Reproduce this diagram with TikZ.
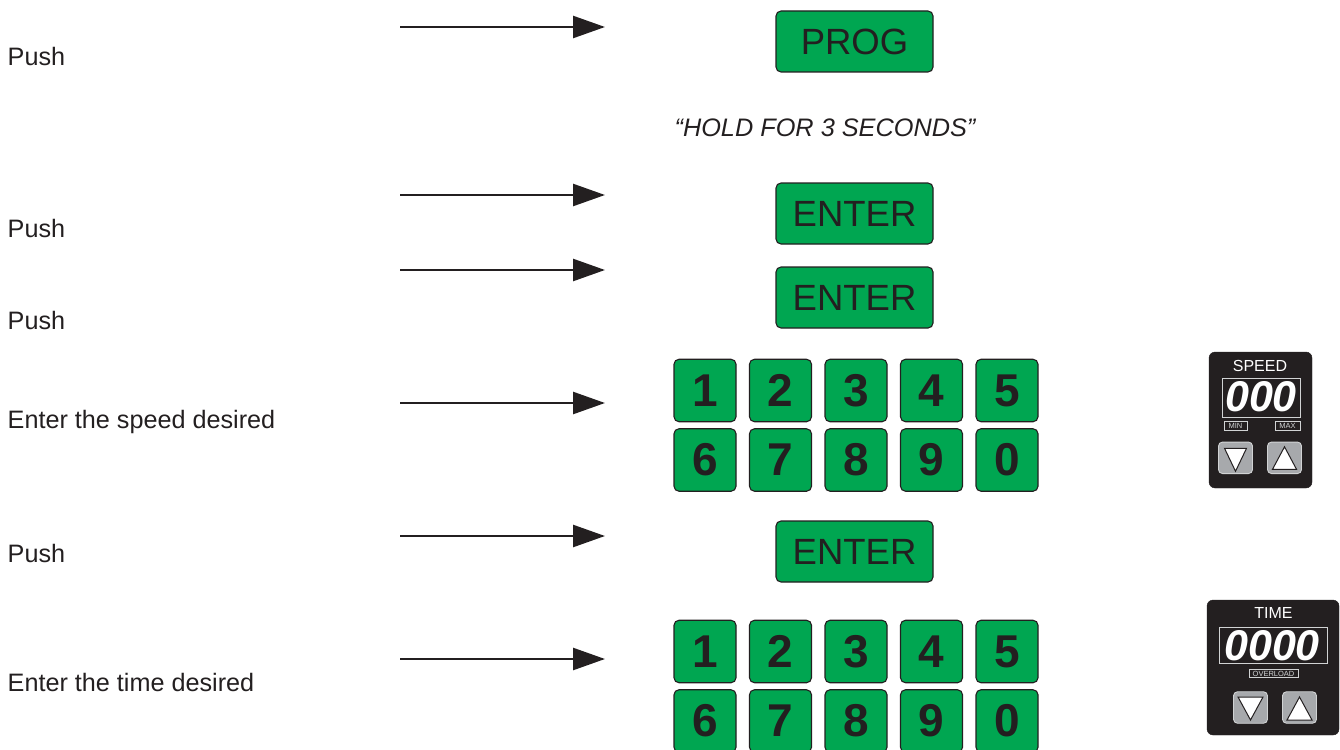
\documentclass[tikz,border=0pt]{standalone}
\usepackage{fontspec}
\setmainfont{Liberation Sans}
\usetikzlibrary{arrows.meta}

\definecolor{keygreen}{HTML}{00A651}
\definecolor{ink}{HTML}{231F20}
\definecolor{btngray}{HTML}{A7A9AC}
\definecolor{rimgray}{HTML}{D1D3D4}

\newcommand{\pxfont}[1]{\fontsize{#1}{#1}\selectfont}

\begin{document}
\begin{tikzpicture}[x=1pt,y=-1pt,
  steplabel/.style={anchor=base west, inner sep=0pt, text=ink, font=\pxfont{25.2}},
  pointer/.style={draw=ink, line width=2.5pt, -{Triangle[length=32pt,width=22pt]}},
  keybase/.style={draw=ink, line width=1.1pt, fill=keygreen, rounded corners=5pt,
    inner sep=0pt, outer sep=0pt, text=ink},
  widekey/.style={keybase, minimum width=157pt, minimum height=61pt, font=\pxfont{36.5}},
  digitkey/.style={keybase, minimum width=62pt, minimum height=62.5pt, font={\pxfont{46}\bfseries}},
  panel/.style={fill=ink, draw=ink, rounded corners=6pt, inner sep=0pt},
  paneltitle/.style={anchor=base, inner sep=0pt, text=white, font=\pxfont{16}},
  window/.style={draw=rimgray, line width=0.9pt, inner sep=0pt},
  readout/.style={anchor=base, inner sep=0pt, text=white, font={\pxfont{43}\bfseries\itshape}},
  tagbox/.style={draw=rimgray, line width=0.7pt, inner sep=0pt, minimum height=8.5pt,
    text=rimgray, font=\pxfont{7.5}},
  padbtn/.style={fill=btngray, draw=rimgray, line width=0.9pt, rounded corners=4pt,
    inner sep=0pt, minimum width=34pt, minimum height=31.5pt},
  arrowglyph/.style={fill=white, draw=ink, line width=1pt, line join=miter}
]
\useasboundingbox (0,0) rectangle (1340,749);

% ---- step captions ----
\node[steplabel] (t1) at (7.5,66)  {Push};
\node[steplabel] (t2) at (7.5,237) {Push};
\node[steplabel] (t3) at (7.5,329) {Push};
\node[steplabel] (t4) at (7.5,428) {Enter the speed desired};
\node[steplabel] (t5) at (7.5,562) {Push};
\node[steplabel] (t6) at (7.5,691) {Enter the time desired};

% ---- pointers ----
\foreach \n/\yy in {1/27,2/195,3/270,4/403,5/536,6/659}{
  \coordinate (p\n s) at (400,\yy);
  \coordinate (p\n e) at (605,\yy);
  \draw[pointer] (p\n s) -- (p\n e);
}

% ---- keys ----
\node[widekey] (prog)   at (854.5,41.5)  {PROG};
\node[anchor=base, inner sep=0pt, text=ink, font={\pxfont{25.3}\itshape}] (hold)
  at (825,136) {“HOLD FOR 3 SECONDS”};
\node[widekey] (enterA) at (854.5,213.5) {ENTER};
\node[widekey] (enterB) at (854.5,297.5) {ENTER};
\node[widekey] (enterC) at (854.5,551.5) {ENTER};

% speed keypad
\foreach \d/\c in {1/0,2/1,3/2,4/3,5/4}
  \node[digitkey] (s\d) at (705+75.5*\c,390.5) {\d};
\foreach \d/\c in {6/0,7/1,8/2,9/3,0/4}
  \node[digitkey] (s\d) at (705+75.5*\c,460) {\d};

% time keypad
\foreach \d/\c in {1/0,2/1,3/2,4/3,5/4}
  \node[digitkey] (k\d) at (705+75.5*\c,651.5) {\d};
\foreach \d/\c in {6/0,7/1,8/2,9/3,0/4}
  \node[digitkey] (k\d) at (705+75.5*\c,721) {\d};

% ---- speed display ----
\node[panel, minimum width=103pt, minimum height=136pt] (spanel) at (1260.5,420) {};
\node[paneltitle] (stitle) at (1260,371) {SPEED};
\node[window, minimum width=78pt, minimum height=39pt] (swin) at (1261,397.5) {};
\node[readout] (sread) at (1261,411) {000};
\node[tagbox, minimum width=23pt] (smin) at (1235.5,426) {MIN};
\node[tagbox, minimum width=25pt] (smax) at (1287.5,426) {MAX};
\node[padbtn] (sdown) at (1235.5,457.8) {};
\node[padbtn] (sup)   at (1284.5,457.8) {};
\draw[arrowglyph] ([shift={(-11,-9.5)}]sdown.center) -- ([shift={(11,-9.5)}]sdown.center)
  -- ([shift={(0,13.5)}]sdown.center) -- cycle;
\draw[arrowglyph] ([shift={(-12,11.5)}]sup.center) -- ([shift={(12,11.5)}]sup.center)
  -- ([shift={(0,-11)}]sup.center) -- cycle;

% ---- time display ----
\node[panel, minimum width=132pt, minimum height=135pt] (tpanel) at (1273,667.5) {};
\node[paneltitle] (ttitle) at (1273.5,618) {TIME};
\node[window, minimum width=108pt, minimum height=36pt] (twin) at (1273.5,645) {};
\node[readout] (tread) at (1272,660) {0000};
\node[tagbox, minimum width=49pt] (tover) at (1273.5,673.5) {OVERLOAD};
\node[padbtn] (tdown) at (1250.5,707.5) {};
\node[padbtn] (tup)   at (1299.5,707.5) {};
\draw[arrowglyph] ([shift={(-12.5,-10.5)}]tdown.center) -- ([shift={(12.5,-10.5)}]tdown.center)
  -- ([shift={(0,12.5)}]tdown.center) -- cycle;
\draw[arrowglyph] ([shift={(-12.5,12.5)}]tup.center) -- ([shift={(12.5,12.5)}]tup.center)
  -- ([shift={(0,-10.5)}]tup.center) -- cycle;
\end{tikzpicture}
\end{document}
